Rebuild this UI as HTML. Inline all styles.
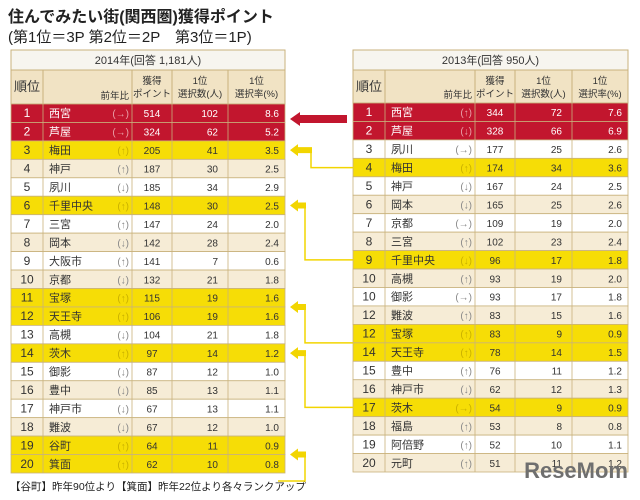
<!DOCTYPE html>
<html><head><meta charset="utf-8">
<style>
body{margin:0;width:640px;height:495px;background:#fff;overflow:hidden;font-family:"Liberation Sans","Noto Sans CJK JP",sans-serif;}
svg text{font-family:"Liberation Sans","Noto Sans CJK JP",sans-serif;}
</style></head>
<body>
<svg id="c" width="640" height="495" xmlns="http://www.w3.org/2000/svg">
<text x="8" y="22" font-size="16" font-weight="bold" fill="#222">住んでみたい街(関西圏)獲得ポイント</text>
<text x="8" y="42" font-size="15" fill="#222">(第1位＝3P 第2位＝2P　第3位＝1P)</text>
<text x="10" y="490" font-size="10.5" fill="#222">【谷町】昨年90位より【箕面】昨年22位より各々ランクアップ</text>
</svg>
<script>
const ranks14=["1","2","3","4","5","6","7","8","9","10","11","12","13","14","15","16","17","18","19","20"];
const names14=["西宮","芦屋","梅田","神戸","夙川","千里中央","三宮","岡本","大阪市","京都","宝塚","天王寺","高槻","茨木","御影","豊中","神戸市","難波","谷町","箕面"];
const trend14=["→","→","↑","↑","↓","↑","↑","↓","↑","↓","↑","↑","↓","↑","↓","↓","↓","↓","↑","↑"];
const points14=[514,324,205,187,185,148,147,142,141,132,115,106,104,97,87,85,67,67,64,62];
const count14=[102,62,41,30,34,30,24,28,7,21,19,19,21,14,12,13,13,12,11,10];
const rate14=["8.6","5.2","3.5","2.5","2.9","2.5","2.0","2.4","0.6","1.8","1.6","1.6","1.8","1.2","1.0","1.1","1.1","1.0","0.9","0.8"];
const hl14=["r","r","y","","","y","","","","","y","y","","y","","","","","y","y"];
const ranks13=["1","2","3","4","5","6","7","8","9","10","10","12","12","14","15","16","17","18","19","20"];
const names13=["西宮","芦屋","夙川","梅田","神戸","岡本","京都","三宮","千里中央","高槻","御影","難波","宝塚","天王寺","豊中","神戸市","茨木","福島","阿倍野","元町"];
const trend13=["↑","↓","→","↑","↓","↓","→","↑","↓","↑","→","↑","↑","↑","↑","↓","→","↑","↑","↑"];
const points13=[344,328,177,174,167,165,109,102,96,93,93,83,83,78,76,62,54,53,52,51];
const count13=[72,66,25,34,24,25,19,23,17,19,17,15,9,14,11,12,9,8,10,11];
const rate13=["7.6","6.9","2.6","3.6","2.5","2.6","2.0","2.4","1.8","2.0","1.8","1.6","0.9","1.5","1.2","1.3","0.9","0.8","1.1","1.2"];
const hl13=["r","r","","y","","","","","y","","","","y","y","","","y","","",""];
const NS="http://www.w3.org/2000/svg";
const svg=document.getElementById('c');
function el(tag,attrs,parent){const e=document.createElementNS(NS,tag);for(const k in attrs)e.setAttribute(k,attrs[k]);(parent||svg).appendChild(e);return e;}
function table(key,x0,cols,yTitle,yHead,yRow0,rh,title,ranks,names,trend,pts,cnt,rate,hl){
  const g=el('g',{});
  
  
  const x1=cols[cols.length-1];
  el('rect',{x:x0,y:yTitle,width:x1-x0,height:yHead-yTitle,fill:'#f7f5ef',stroke:'#c9b27c'},g);
  const tt=el('text',{x:(x0+x1)/2,y:yTitle+14,'font-size':11,'text-anchor':'middle',fill:'#333'},g);tt.textContent=title;
  
  
  el('rect',{x:x0,y:yHead,width:x1-x0,height:yRow0-yHead,fill:'#f1e3c4',stroke:'#c9b27c'},g);
  for(let i=1;i<cols.length-1;i++){ if(i===1)continue; el('line',{x1:cols[i],y1:yHead,x2:cols[i],y2:yRow0,stroke:'#c9b27c'},g);}
  el('line',{x1:cols[1],y1:yHead,x2:cols[1],y2:yRow0,stroke:'#c9b27c'},g);
  const hd=[[ (cols[0]+cols[1])/2, yHead+21,'順位',13],[cols[2]-3,yRow0-5,'前年比',9.5]];
  hd.forEach(h=>{const t=el('text',{x:h[0],y:h[1],'font-size':h[3],'text-anchor':h[2]==='前年比'?'end':'middle',fill:'#333'},g);t.textContent=h[2];});
  const two=[['獲得','ポイント'],['1位','選択数(人)'],['1位','選択率(%)']];
  two.forEach((p,i)=>{const cx=(cols[i+2]+cols[i+3])/2;
    let t=el('text',{x:cx,y:yHead+14,'font-size':9.5,'text-anchor':'middle',fill:'#333'},g);t.textContent=p[0];
    t=el('text',{x:cx,y:yHead+27,'font-size':9.5,'text-anchor':'middle',fill:'#333'},g);t.textContent=p[1];});
  ranks.forEach((r,i)=>{
    const y=yRow0+i*rh;
    const bg=hl[i]==='r'?'#c2162e':hl[i]==='y'?'#f6dd06':(i%2?'#f6ecd6':'#ffffff');
    const fc=hl[i]==='r'?'#ffffff':'#333';
    const ac=hl[i]==='r'?'#e9a0a8':hl[i]==='y'?'#c9b000':'#888';
    const row=el('g',{},g);
    
    
    el('rect',{x:x0,y:y,width:x1-x0,height:rh,fill:bg,stroke:'#c9b27c','stroke-width':0.8},row);
    [1,2,3,4].forEach(c=>el('line',{x1:cols[c],y1:y,x2:cols[c],y2:y+rh,stroke:'#c9b27c','stroke-width':0.8},row));
    const ty=y+rh/2+4;
    let t=el('text',{x:(cols[0]+cols[1])/2,y:ty,'font-size':12,'text-anchor':'middle',fill:fc},row);t.textContent=r;
    t=el('text',{x:cols[1]+6,y:ty,'font-size':11,fill:fc},row);t.textContent=names[i];
    t=el('text',{x:cols[2]-3,y:ty,'font-size':10,'text-anchor':'end',fill:ac},row);t.textContent='('+trend[i]+')';
    t=el('text',{x:(cols[2]+cols[3])/2,y:ty,'font-size':10,'text-anchor':'middle',fill:fc},row);t.textContent=pts[i];
    t=el('text',{x:cols[4]-10,y:ty,'font-size':10,'text-anchor':'end',fill:fc},row);t.textContent=cnt[i];
    t=el('text',{x:cols[5]-6,y:ty,'font-size':10,'text-anchor':'end',fill:fc},row);t.textContent=rate[i];
  });
}
table('2014',11,[11,43,132,172,228,285],50,70,104,18.45,'2014年(回答 1,181人)',ranks14,names14,trend14,points14,count14,rate14,hl14);
table('2013',353,[353,385,475,515,572,628],50,70,103,18.45,'2013年(回答 950人)',ranks13,names13,trend13,points13,count13,rate13,hl13);
const L0=104,R0=103,rh=18.45;
const ra=el('polygon',{points:'290,119 300,112 300,115 347,115 347,123 300,123 300,126',fill:'#c2162e'});


function conn(name,ly,ry,vx,endx){
  const g=el('g',{});
  
  
  el('polyline',{points:`298,${ly} ${vx},${ly} ${vx},${ry} ${endx},${ry}`,fill:'none',stroke:'#f2d500','stroke-width':1.5},g);
  el('polygon',{points:`290,${ly} 298,${ly-6} 298,${ly-3} ${vx+1},${ly-3} ${vx+1},${ly+3} 298,${ly+3} 298,${ly+6}`,fill:'#f2d500'},g);
}
conn('umeda-connector',L0+2.5*rh,R0+3.5*rh,311,353);
conn('senri-connector',L0+5.5*rh,R0+8.5*rh,305,353);
conn('takarazuka-connector',L0+11*rh,R0+13*rh,305,353);
conn('ibaraki-connector',L0+13.5*rh,R0+16.5*rh,305,353);
conn('tanimachi-connector',L0+19*rh,481,305,278);
const wm=el('text',{x:628,y:478,'font-size':22,'font-weight':'bold',fill:'#6f6f6f','text-anchor':'end'});
wm.textContent='ReseMom';


</script>
</body></html>
